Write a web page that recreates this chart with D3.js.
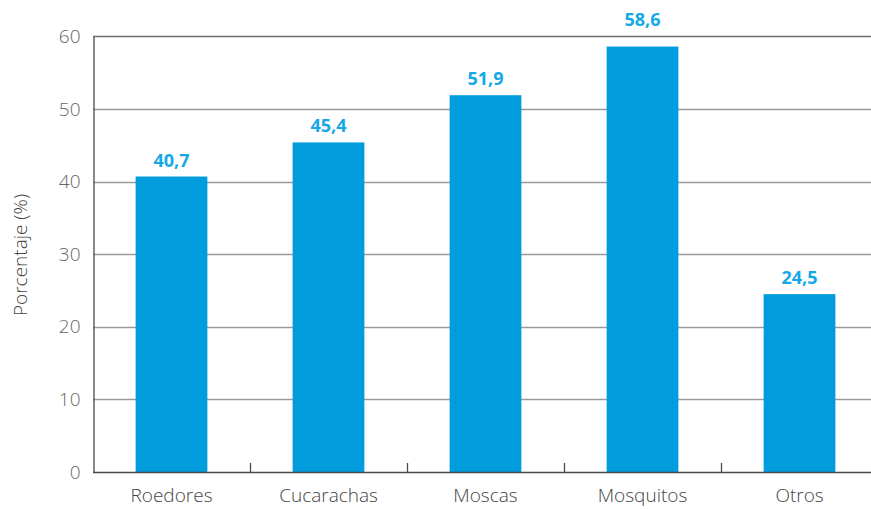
<!DOCTYPE html>
<html>
<head>
<meta charset="utf-8">
<script src="https://cdn.jsdelivr.net/npm/d3@7"></script>
<style>
  body { margin: 0; background: #fff; }
  svg { display: block; }
  .tick text { font-family: "Open Sans", "Lato", sans-serif; font-weight: 300; }
</style>
</head>
<body>
<svg id="chart" width="871" height="509"></svg>
<script>
// data
var categories = ["Roedores", "Cucarachas", "Moscas", "Mosquitos", "Otros"]
var values = [40.7, 45.4, 51.9, 58.6, 24.5]
var yTicks = [0, 10, 20, 30, 40, 50, 60]
var yTitle = "Porcentaje (%)"

var svg = d3.select("#chart"),
	mLeft = 93, mRight = 878, mTop = 36.4, mBottom = 472

var x = d3.scaleBand()
	.domain(categories)
	.range([mLeft, mRight])
	.paddingInner(0.543)
	.paddingOuter(0.2715)

var y = d3.scaleLinear()
	.domain([0, 60])
	.range([mBottom, mTop])

// gridlines
svg.append("g")
	.selectAll("line")
	.data(yTicks.filter(d => d > 0))
	.join("line")
	.attr("x1", mLeft)
	.attr("x2", 871)
	.attr("y1", d => Math.round(y(d)) + 0.5)
	.attr("y2", d => Math.round(y(d)) + 0.5)
	.attr("stroke", d => d == 60 ? "#6d6d6d" : "#9a9a9a")
	.attr("stroke-width", 1.3)

// bars
svg.append("g")
	.selectAll("rect")
	.data(values)
	.join("rect")
	.attr("x", (d, i) => x(categories[i]))
	.attr("y", d => y(d))
	.attr("width", x.bandwidth())
	.attr("height", d => mBottom - y(d))
	.attr("fill", "#009cdd")

// y axis
var yAxis = svg.append("g")
	.attr("transform", "translate(" + (mLeft + 0.5) + ",0)")
	.call(d3.axisLeft(y).tickValues(yTicks).tickSize(0).tickPadding(13))
yAxis.select(".domain").attr("stroke", "#4a4a4a").attr("stroke-width", 1.3)
yAxis.selectAll("text")
	.attr("fill", "#666")
	.style("font-size", "19px")

// x axis: ticks between categories pointing up
var bounds = categories.map(c => x(c) - x.step() * x.paddingInner() / 2)
svg.append("line")
	.attr("x1", mLeft).attr("x2", 871)
	.attr("y1", mBottom + 0.5).attr("y2", mBottom + 0.5)
	.attr("stroke", "#4a4a4a").attr("stroke-width", 1.3)
svg.append("g")
	.selectAll("line")
	.data(bounds.slice(1))
	.join("line")
	.attr("x1", d => Math.round(d) + 0.5)
	.attr("x2", d => Math.round(d) + 0.5)
	.attr("y1", mBottom)
	.attr("y2", mBottom - 9)
	.attr("stroke", "#4a4a4a")
	.attr("stroke-width", 1.3)

var xAxis = svg.append("g")
	.attr("transform", "translate(0," + mBottom + ")")
	.call(d3.axisBottom(x).tickSize(0).tickPadding(17))
xAxis.select(".domain").remove()
xAxis.selectAll("text")
	.attr("fill", "#444")
	.style("font-size", "19px")

// value labels (lifted above the top gridline if they would cross it)
var labelY = function(d) {
	var base = y(d) - 10, line = y(60)
	if (base + 3 > line && base - 15 < line) base = line - 10
	return base
}
svg.append("g")
	.selectAll("text")
	.data(values)
	.join("text")
	.attr("x", (d, i) => x(categories[i]) + x.bandwidth() / 2)
	.attr("y", labelY)
	.attr("text-anchor", "middle")
	.attr("fill", "#14a9e6")
	.style("font-family", "'Open Sans', sans-serif")
	.style("font-weight", "700")
	.style("font-size", "18px")
	.text(d => d.toFixed(1).replace(".", ","))

// y title
svg.append("text")
	.attr("transform", "translate(27,255) rotate(-90)")
	.attr("text-anchor", "middle")
	.attr("fill", "#444")
	.style("font-family", "'Open Sans', 'Lato', sans-serif")
	.style("font-weight", "300")
	.style("font-size", "19px")
	.text(yTitle)
</script>
</body>
</html>
